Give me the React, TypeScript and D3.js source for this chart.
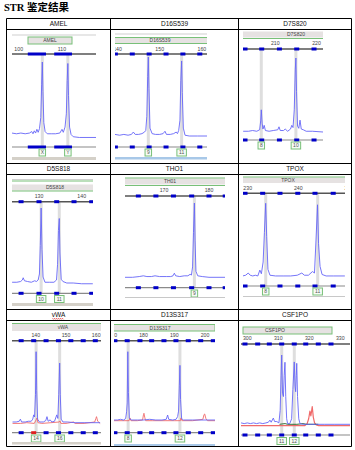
import React from 'react';
import * as d3 from 'd3';

// ---------- DATA ----------
const titleText = 'STR 鉴定结果';
const headerRow1 = ['AMEL', 'D16S539', 'D7S820'];
const headerRow2 = ['D5S818', 'THO1', 'TPOX'];
const headerRow3 = ['vWA', 'D13S317', 'CSF1PO'];

// AMEL
const amelTicks = [100, 110];
const amelBins: [number, number][] = [[102.1, 106.3], [108.2, 112.3]];
const amelAlleles = [{ label: 'X', bp: 105.45 }, { label: 'Y', bp: 111.35 }];
const amelBlue: [number, number][] = [[98.4,4],[99.5,3],[100.5,4],[101.5,3],[102.5,4],[103.0,6],[103.3,3],[103.6,7],[103.9,4],[104.2,9],[104.5,5],[104.8,10],[105.1,25],[105.3,70],[105.45,100],[105.6,60],[105.8,18],[106.1,6],[106.6,3],[107.5,3],[108.5,3],[109.5,4],[110.0,9],[110.3,5],[110.7,12],[111.0,30],[111.2,75],[111.35,98],[111.5,55],[111.75,12],[112.1,2],[112.6,-1],[114,-2],[118,-2]];

// D16S539
const d16Ticks = [140, 150, 160];
const d16Markers = [139.5, 143.5, 147.5, 151.5, 155.5, 159.5];
const d16Alleles = [{ label: '9', bp: 147.3 }, { label: '11', bp: 155.2 }];
const d16Blue: [number, number][] = [[139.4,2],[140.5,1],[141.5,2],[142.5,1],[143.3,2],[143.75,5],[144.2,2],[145,2],[145.8,3],[146.4,5],[146.7,7],[146.95,25],[147.15,75],[147.3,100],[147.45,60],[147.7,10],[148.2,3],[149,2],[150,2],[150.8,3],[151.25,6],[151.6,2],[152.5,2],[153.3,3],[153.9,5],[154.2,3],[154.5,7],[154.8,20],[155.0,70],[155.2,95],[155.35,55],[155.6,10],[156.0,1],[157,0],[159,0],[161.3,0]];

// D7S820
const d7Ticks = [210, 220];
const d7Markers = [202.65, 206.7, 211.0, 215.2, 219.4];
const d7Alleles = [{ label: '8', bp: 206.6 }, { label: '10', bp: 215.0 }];
const d7Blue: [number, number][] = [[202.2,1],[203.5,1],[204.5,2],[205.5,1],[206.2,3],[206.45,15],[206.6,30],[206.8,12],[207.0,4],[207.3,9],[207.6,2],[208.5,1],[209.5,2],[210.6,3],[210.9,7],[211.2,2],[212.0,2],[212.4,4],[213,1],[213.7,4],[214.0,9],[214.3,6],[214.6,30],[214.85,85],[215.0,100],[215.15,55],[215.4,8],[215.7,5],[216.0,16],[216.3,4],[216.8,3],[217.5,1],[219,1],[221.6,0]];

// D5S818
const d5Ticks = [130, 140];
const d5Markers = [125.8, 130, 134.15, 138.2, 142.35];
const d5Alleles = [{ label: '10', bp: 130.5 }, { label: '11', bp: 134.75 }];
const d5Blue: [number, number][] = [[123.7,1],[124.8,1],[125.7,2],[126.1,4],[126.3,7],[126.6,3],[127.3,2],[128.2,1],[129.0,3],[129.4,2],[129.8,4],[130.1,12],[130.3,50],[130.5,100],[130.7,45],[130.95,8],[131.4,1],[132.5,1],[133.5,1],[134.1,4],[134.35,25],[134.55,70],[134.75,86],[134.9,40],[135.2,5],[135.6,2],[136.5,0],[138,0],[140,-1],[142.6,-1]];

// TH01
const th01Ticks = [170, 180];
const th01Markers = [164.3, 168.2, 172.1, 176.15, 180, 183.6];
const th01Alleles = [{ label: '9', bp: 176.75 }];
const th01Blue: [number, number][] = [[161.3,0],[163,0],[164.5,1],[165.4,2],[166.2,1],[167.2,1],[168,2],[169,1],[170.5,1],[171.5,1],[172.0,2],[172.3,5.5],[172.6,2],[173.5,1],[174.5,2],[175.3,2],[175.8,4],[176.1,3],[176.35,14],[176.55,60],[176.75,100],[176.9,50],[177.1,8],[177.5,2],[178.5,1],[180,0],[183.6,0]];

// TPOX
const tpoxTicks = [230, 240, 250];
const tpoxMarkers = [229.47, 232.96, 236.38, 239.9, 243.3, 246.9];
const tpoxAlleles = [{ label: '8', bp: 233.56 }, { label: '11', bp: 243.83 }];
const tpoxBlue: [number, number][] = [[229.0,1],[229.6,2],[230.1,5],[230.5,2],[231.0,1],[231.5,2],[232.0,1],[232.4,9],[232.7,4],[233.05,20],[233.3,60],[233.55,100],[233.75,55],[234.0,10],[234.4,2],[235.5,1],[237,1],[238.5,1],[239.8,2],[240.7,5],[241.2,2],[242.0,2],[242.8,7],[243.2,5],[243.5,50],[243.8,98],[244.0,45],[244.3,14],[244.7,3],[245.5,1],[247,1],[249.2,1]];

// vWA
const vwaTicks = [140, 150, 160];
const vwaMarkers = [135.15, 143.4, 147.5, 151.6, 155.7, 159.7];
const vwaRedMarkers = [139.3];
const vwaAlleles = [{ label: '14', bp: 140.1 }, { label: '16', bp: 147.9 }];
const vwaBlue: [number, number][] = [[132.3,1],[133.5,1],[134.5,2],[134.9,5],[135.3,1],[136.5,1],[137.5,2],[138.5,2],[139.0,5],[139.3,11],[139.6,8],[139.9,40],[140.1,100],[140.3,45],[140.6,5],[141.2,1],[142.5,1],[143.3,3],[143.7,8.5],[144.1,2],[144.75,4],[145.3,1],[146.2,2],[146.95,11],[147.3,6],[147.6,40],[147.9,84],[148.1,40],[148.4,5],[149,1],[150.5,1],[153,0],[156,0],[161.3,0]];
const vwaRed: [number, number][] = [[132.3,-1],[135,-1],[137,0],[139.5,-1],[140.1,4],[140.4,6.6],[140.7,0],[142,-1],[145,0],[147.8,1],[148.0,2.5],[148.3,-1],[150,-1],[152.5,1],[153,-1],[156,-1],[159.5,1],[159.9,6],[160.1,8.5],[160.5,2],[161.3,-1]];

// D13S317
const d13Ticks = [170, 180, 190, 200];
const d13Markers = [170.7, 174.7, 178.85, 182.65, 186.65, 190.55, 194.55, 198.6, 202.7];
const d13Alleles = [{ label: '8', bp: 175.0 }, { label: '12', bp: 191.85 }];
const d13Blue: [number, number][] = [[170.1,0],[171.5,0],[172.5,1],[173.5,0],[174.2,2],[174.5,12],[174.7,25],[174.9,100],[175.1,40],[175.4,3],[176,0],[178,0],[180,0],[182,1],[184,0],[186,0],[187.4,1],[187.85,7.3],[188.2,1],[189.5,0],[190.6,1],[191.1,5],[191.4,13],[191.65,50],[191.85,80],[192.05,30],[192.4,2],[193,0],[196,0],[200,0],[203.3,0]];
const d13Red: [number, number][] = [[170.1,-1],[173,-1],[175.3,-1],[175.6,3],[175.9,-1],[178,-1],[179.7,0],[180.0,8],[180.15,9.8],[180.4,4],[180.7,-1],[183,-1],[187,-1],[190,-1],[192.0,-1],[192.2,3],[192.5,-1],[196,-1],[199.3,1],[199.7,8],[199.9,8.8],[200.3,2],[200.8,-1],[203.3,-1]];

// CSF1PO
const csfTicks = [300, 310, 320, 330];
const csfMarkers = [299.25, 303.35, 307.1, 311.1, 315.15, 318.85, 322.9, 327.0];
const csfAlleles = [{ label: '11', bp: 311.1 }, { label: '12', bp: 315.15 }];
const csfBlue: [number, number][] = [[296.7,1],[298,2],[299,1],[300,2],[301,1],[302,2],[303,1],[304,2],[305,1],[306,2],[306.8,3],[307.3,6],[307.7,3],[308.4,9],[308.8,4],[309.5,4],[310.2,2],[310.6,20],[310.9,70],[311.1,100],[311.35,45],[311.65,40],[311.9,70],[312.15,89.5],[312.4,40],[312.7,8],[313.0,1],[313.7,1],[314.3,8],[314.7,50],[315.15,90],[315.4,55],[315.6,47],[315.8,70],[315.95,88],[316.2,40],[316.6,8],[317.0,1],[318,0],[320,0],[322,0],[325,0],[328,0],[333.8,0]];
const csfRed: [number, number][] = [[296.7,-2],[300,-2],[305,-2],[310,-2],[315,-2],[318.5,-2],[319.3,1],[319.8,8],[320.2,19],[320.5,12],[320.95,25.4],[321.3,10],[321.7,2],[322.3,-1],[323,-2],[327,-2],[333.8,-2]];
const csfGreen: [number, number][] = [[310.4,0],[312.2,1],[313,0],[316,0],[318,1],[319,0],[322.9,0]];

// ---------- STYLE / LAYOUT ----------
const BLUE = '#6565f7';
const RED = '#f06a6a';
const GREEN_TR = '#206020';
const MARK = '#0000c8';
const GREEN = '#78c078';
const BAND = '#e6e2e2';
const GRAYBAR = '#d4d0c8';
const BLUEBAR = '#a8c8e8';

type Band = { x0: number; x1: number; y0: number; y1: number; stroke?: boolean; greens?: number[]; grays?: number[]; lx: number };
type Trace = { color: string; pts: [number, number][]; w?: number };
type Cfg = {
  name: string; ticks: number[]; markers: number[]; redMarkers?: number[]; bins?: [number, number][];
  alleles: { label: string; bp: number }[]; traces: Trace[];
  x0: number; x1: number; refBp: number; refPx: number; ppb: number;
  band: Band; tickY: number; axisY: number; baseY: number; peakY: number; botY: number; alleleY: number;
  bar?: { y: number; h: number; color: string }; line?: number;
};

const panels: Cfg[] = [
  { name: 'AMEL', ticks: amelTicks, markers: [], bins: amelBins, alleles: amelAlleles, traces: [{ color: BLUE, pts: amelBlue }],
    x0: 12, x1: 96, refBp: 100, refPx: 18.7, ppb: 4.33,
    band: { x0: 28, x1: 72, y0: 37, y1: 44, stroke: true, grays: [35], lx: 50 },
    tickY: 49, axisY: 54, baseY: 136, peakY: 62, botY: 147, alleleY: 149, bar: { y: 157, h: 3, color: GRAYBAR } },
  { name: 'D16S539', ticks: d16Ticks, markers: d16Markers, alleles: d16Alleles, traces: [{ color: BLUE, pts: d16Blue }],
    x0: 115, x1: 207, refBp: 140, refPx: 117.5, ppb: 4.22,
    band: { x0: 115, x1: 207, y0: 37.5, y1: 43.5, greens: [37.5, 43.5], grays: [34], lx: 160 },
    tickY: 49, axisY: 54, baseY: 136, peakY: 57, botY: 147, alleleY: 149, bar: { y: 157, h: 2.5, color: BLUEBAR } },
  { name: 'D7S820', ticks: d7Ticks, markers: d7Markers, alleles: d7Alleles, traces: [{ color: BLUE, pts: d7Blue }],
    x0: 243, x1: 323, refBp: 210, refPx: 275.3, ppb: 4.12,
    band: { x0: 243, x1: 323, y0: 31.5, y1: 37.5, greens: [38.5], lx: 296 },
    tickY: 43.5, axisY: 49, baseY: 132, peakY: 58, botY: 140, alleleY: 142 },
  { name: 'D5S818', ticks: d5Ticks, markers: d5Markers, alleles: d5Alleles, traces: [{ color: BLUE, pts: d5Blue }],
    x0: 12, x1: 93, refBp: 130, refPx: 39, ppb: 4.27,
    band: { x0: 12, x1: 93, y0: 184.5, y1: 190.5, greens: [181, 191], grays: [179.5], lx: 55 },
    tickY: 196, axisY: 201.7, baseY: 283, peakY: 208, botY: 293.3, alleleY: 295.5, bar: { y: 303, h: 3, color: GRAYBAR } },
  { name: 'TH01', ticks: th01Ticks, markers: th01Markers, alleles: th01Alleles, traces: [{ color: BLUE, pts: th01Blue }],
    x0: 125, x1: 225, refBp: 170, refPx: 164, ppb: 4.5,
    band: { x0: 125, x1: 225, y0: 178.5, y1: 184.5, greens: [178, 185.5], lx: 170 },
    tickY: 189.7, axisY: 196, baseY: 277.3, peakY: 203, botY: 287.7, alleleY: 290, line: 297.5 },
  { name: 'TPOX', ticks: tpoxTicks, markers: tpoxMarkers, alleles: tpoxAlleles, traces: [{ color: BLUE, pts: tpoxBlue }],
    x0: 243, x1: 345, refBp: 230, refPx: 247.7, ppb: 5.06,
    band: { x0: 243, x1: 345, y0: 177.5, y1: 183, greens: [177], lx: 288 },
    tickY: 188.5, axisY: 193.3, baseY: 276.7, peakY: 203.3, botY: 286, alleleY: 288, line: 296.5 },
  { name: 'vWA', ticks: vwaTicks, markers: vwaMarkers, redMarkers: vwaRedMarkers, alleles: vwaAlleles,
    traces: [{ color: RED, pts: vwaRed }, { color: BLUE, pts: vwaBlue }],
    x0: 12, x1: 101, refBp: 140, refPx: 35.8, ppb: 3.02,
    band: { x0: 12, x1: 101, y0: 324, y1: 331, greens: [323.5], lx: 63 },
    tickY: 335.5, axisY: 340.7, baseY: 422.7, peakY: 351.7, botY: 432.7, alleleY: 435, bar: { y: 442, h: 2.5, color: GRAYBAR } },
  { name: 'D13S317', ticks: d13Ticks, markers: d13Markers, alleles: d13Alleles,
    traces: [{ color: RED, pts: d13Red }, { color: BLUE, pts: d13Blue }],
    x0: 114, x1: 215, refBp: 180, refPx: 143.5, ppb: 3.075,
    band: { x0: 110, x1: 215, y0: 324.5, y1: 331, stroke: true, lx: 160 },
    tickY: 335.5, axisY: 340.7, baseY: 420, peakY: 351.7, botY: 432.7, alleleY: 435, bar: { y: 444, h: 2.3, color: BLUEBAR } },
  { name: 'CSF1PO', ticks: csfTicks, markers: csfMarkers, alleles: csfAlleles,
    traces: [{ color: RED, pts: csfRed, w: 1.2 }, { color: GREEN_TR, pts: csfGreen }, { color: BLUE, pts: csfBlue }],
    x0: 241, x1: 350, refBp: 310, refPx: 278.3, ppb: 3.1,
    band: { x0: 243, x1: 332, y0: 327, y1: 334, stroke: true, lx: 275 },
    tickY: 338.5, axisY: 344, baseY: 424.3, peakY: 355, botY: 435, alleleY: 437.5 },
];

const FONT = "'Liberation Sans', Arial, sans-serif";

function Panel({ c, i }: { c: Cfg; i: number }) {
  const x = d3.scaleLinear().domain([c.refBp, c.refBp + 10]).range([c.refPx, c.refPx + 10 * c.ppb]);
  const y = d3.scaleLinear().domain([0, 100]).range([c.baseY, c.peakY]);
  const line = d3.line<[number, number]>().x(d => x(d[0])).y(d => y(d[1]));
  const id = `clip${i}`;
  const b = c.band;
  const mk = (bp: number, yy: number, col: string, k: string) => (
    <rect key={k} x={x(bp) - 2.5} y={yy - 1.5} width={5} height={3} fill={col} />
  );
  return (
    <g>
      <defs>
        <clipPath id={id}>
          <rect x={c.x0} y={0} width={c.x1 - c.x0} height={450} />
        </clipPath>
      </defs>
      <g clipPath={`url(#${id})`}>
        {(b.grays || []).map((gy, k) => (
          <line key={'g' + k} x1={c.x0} x2={c.x1} y1={gy} y2={gy} stroke="#cfcfcf" strokeWidth={1.2} />
        ))}
        <rect x={b.x0} y={b.y0} width={b.x1 - b.x0} height={b.y1 - b.y0} fill={BAND}
          stroke={b.stroke ? GREEN : 'none'} strokeWidth={1} />
        {(b.greens || []).map((gy, k) => (
          <line key={'gr' + k} x1={b.x0} x2={b.x1} y1={gy} y2={gy} stroke={GREEN} strokeWidth={1.2} />
        ))}
        <text x={b.lx} y={(b.y0 + b.y1) / 2 + 1.8} fontSize={5} fontFamily={FONT} fill="#444" textAnchor="middle">{c.name}</text>
        {c.ticks.map(t => (
          <text key={'t' + t} x={x(t)} y={c.tickY + 1.8} fontSize={5.2} fontFamily={FONT} fill="#444" textAnchor="middle">{t}</text>
        ))}
        {c.alleles.map(a => (
          <line key={'al' + a.label} x1={x(a.bp)} x2={x(a.bp)} y1={c.axisY} y2={c.botY} stroke="#dedede" strokeWidth={3} />
        ))}
        <line x1={c.x0} x2={c.x1} y1={c.axisY} y2={c.axisY} stroke="#555" strokeWidth={1.6} />
        <line x1={c.x0} x2={c.x1} y1={c.botY} y2={c.botY} stroke="#8a8a8a" strokeWidth={1.2} />
        {(c.bins || []).map((bn, k) => (
          <g key={'b' + k}>
            <rect x={x(bn[0])} y={c.axisY - 1.5} width={x(bn[1]) - x(bn[0])} height={3} fill={MARK} />
            <rect x={x(bn[0])} y={c.botY - 1.5} width={x(bn[1]) - x(bn[0])} height={3} fill={MARK} />
          </g>
        ))}
        {c.markers.map((m, k) => mk(m, c.axisY, MARK, 'mt' + k))}
        {c.markers.map((m, k) => mk(m, c.botY, MARK, 'mb' + k))}
        {(c.redMarkers || []).map((m, k) => mk(m, c.axisY, MARK, 'rt' + k))}
        {(c.redMarkers || []).map((m, k) => mk(m, c.botY, '#e02020', 'rb' + k))}
        {c.traces.map((tr, k) => (
          <path key={'tr' + k} d={line(tr.pts) || ''} fill="none" stroke={tr.color} strokeWidth={tr.w || 0.9} strokeLinejoin="round" />
        ))}
        {c.alleles.map(a => {
          const w = a.label.length * 3 + 3.5;
          return (
            <g key={'ab' + a.label}>
              <rect x={x(a.bp) - w / 2} y={c.alleleY} width={w} height={7} fill="#f6fbf6" stroke={GREEN} strokeWidth={1} />
              <text x={x(a.bp)} y={c.alleleY + 5.3} fontSize={5} fontFamily={FONT} fill="#555" textAnchor="middle">{a.label}</text>
            </g>
          );
        })}
        {c.bar && <rect x={c.x0} y={c.bar.y} width={c.x1 - c.x0} height={c.bar.h} fill={c.bar.color} />}
        {c.line && <line x1={c.x0} x2={c.x1} y1={c.line} y2={c.line} stroke="#c8c8c8" strokeWidth={1} />}
      </g>
    </g>
  );
}

export default function App() {
  const colX = [6.5, 110.5, 238.5, 351.5];
  const rowY = [18.5, 29.5, 163.5, 174.5, 309.5, 320.5, 446.5];
  const headerRows = [headerRow1, headerRow2, headerRow3];
  const headerY = [rowY[0], rowY[2], rowY[4]];
  const parts = titleText.split(' ');
  return (
    <div style={{ position: 'absolute', left: 0, top: 0 }}>
      <svg width={355} height={450} style={{ display: 'block', background: '#fff' }}>
        <text x={4} y={11} fontSize={10.5} fontWeight="bold" fontFamily="'Liberation Serif', 'Noto Sans CJK SC', serif">
          {parts[0]} <tspan fontFamily="'Noto Sans CJK SC', sans-serif">{parts[1]}</tspan>
        </text>
        {headerRows.map((row, r) =>
          row.map((h, ci) => {
            const cx = (colX[ci] + colX[ci + 1]) / 2;
            const cy = headerY[r] + 5.5;
            return (
              <g key={h}>
                <text x={cx} y={cy + 2.2} fontSize={6.5} fontFamily={FONT} fill="#111" textAnchor="middle">{h}</text>
                {h === 'vWA' && (
                  <path d={d3.range(0, 12).map(k => `${k === 0 ? 'M' : 'L'}${cx - 6 + k},${cy + 3.3 + (k % 2) * 1}`).join('')}
                    stroke="#e02020" strokeWidth={0.7} fill="none" />
                )}
              </g>
            );
          })
        )}
        {panels.map((c, i) => <Panel key={c.name} c={c} i={i} />)}
        {colX.map((cx, k) => (
          <line key={'cx' + k} x1={cx} x2={cx} y1={rowY[0]} y2={rowY[6]} stroke="#000" strokeWidth={1} />
        ))}
        {rowY.map((ry, k) => (
          <line key={'ry' + k} x1={colX[0]} x2={colX[3]} y1={ry} y2={ry} stroke="#000" strokeWidth={1} />
        ))}
      </svg>
    </div>
  );
}
